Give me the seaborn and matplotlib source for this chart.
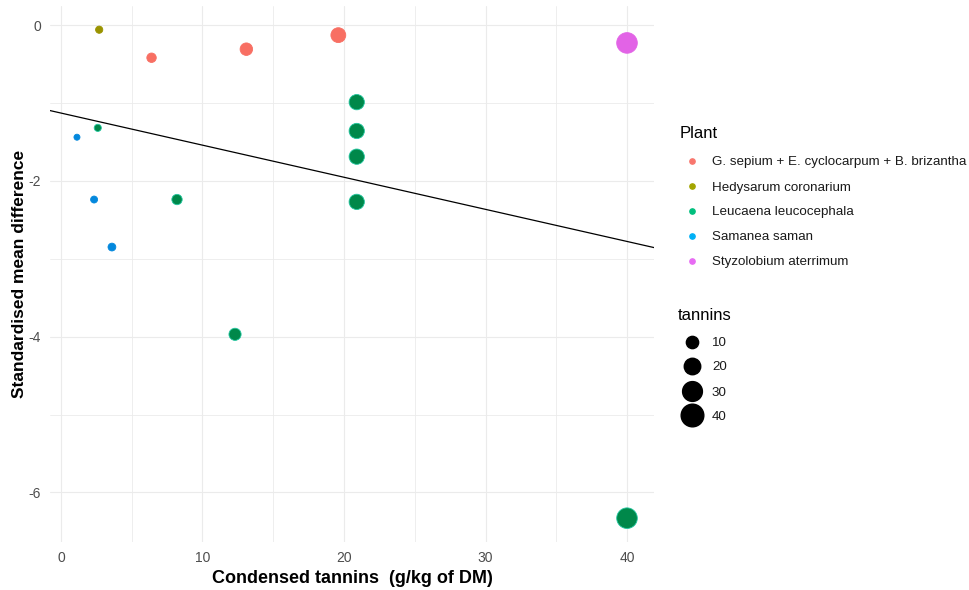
import matplotlib
matplotlib.use("Agg")
import matplotlib.pyplot as plt
from matplotlib.lines import Line2D
from matplotlib.ticker import MultipleLocator
import numpy as np
import pandas as pd
import seaborn as sns

# ---- data ----
plants = ["G. sepium + E. cyclocarpum + B. brizantha", "Hedysarum coronarium",
          "Leucaena leucocephala", "Samanea saman", "Styzolobium aterrimum"]
point_plant = ["G. sepium + E. cyclocarpum + B. brizantha"] * 3 + \
              ["Hedysarum coronarium"] + \
              ["Leucaena leucocephala"] * 8 + \
              ["Samanea saman"] * 3 + \
              ["Styzolobium aterrimum"]
tannins = [6.4, 13.1, 19.6,
           2.7,
           2.6, 8.2, 12.3, 20.9, 20.9, 20.9, 20.9, 40.0,
           1.13, 2.34, 3.6,
           40.0]
smd = [-0.42, -0.31, -0.13,
       -0.06,
       -1.32, -2.24, -3.97, -0.99, -1.36, -1.69, -2.27, -6.33,
       -1.44, -2.24, -2.85,
       -0.23]
fit_intercept = -1.13
fit_slope = -0.0412
size_breaks = [10, 20, 30, 40]

legend_colors = ["#F8766D", "#A3A500", "#00BF7D", "#00B0F6", "#E76BF3"]
point_colors = ["#F86F63", "#9A9300", "#00884A", "#0388DD", "#E263E6"]

df = pd.DataFrame({"Plant": point_plant, "tannins": tannins, "smd": smd})

sns.set_theme(style="white")
plt.rcParams["font.family"] = ["Liberation Sans", "DejaVu Sans"]

fig = plt.figure(figsize=(9.69, 5.90), dpi=100)
ax = fig.add_axes([0.0511, 0.0808, 0.6243, 0.9098])

size_min, size_max = 13.0, 220.0
sns.scatterplot(data=df, x="tannins", y="smd", hue="Plant", hue_order=plants,
                palette=dict(zip(plants, point_colors)),
                size="tannins", sizes=(size_min, size_max), size_norm=(0, 40),
                linewidth=0.6, edgecolor=None, legend=False, ax=ax, zorder=3)
# teal halo on Leucaena points like in the reference
coll = ax.collections[-1]
ec = [("#22C7A0" if p == "Leucaena leucocephala" else point_colors[plants.index(p)])
      for p in df["Plant"]]
coll.set_edgecolor(ec)

ax.axline((0, fit_intercept), slope=fit_slope, color="black", lw=0.9, zorder=2)

ax.set_xlim(-0.81, 41.94)
ax.set_ylim(-6.64, 0.25)
ax.xaxis.set_major_locator(MultipleLocator(10))
ax.xaxis.set_minor_locator(MultipleLocator(5))
ax.yaxis.set_major_locator(MultipleLocator(2))
ax.yaxis.set_minor_locator(MultipleLocator(1))
ax.grid(which="major", color="#EBEBEB", lw=0.8)
ax.grid(which="minor", color="#EBEBEB", lw=0.6)
ax.set_axisbelow(True)
for s in ax.spines.values():
    s.set_visible(False)
ax.tick_params(axis="both", which="both", length=0, labelsize=10, colors="#4D4D4D", pad=6)
ax.set_yticks([0, -2, -4, -6])
ax.set_yticklabels(["0", "-2", "-4", "-6"])
ax.set_xlabel("Condensed tannins  (g/kg of DM)", fontsize=13, fontweight="bold",
              color="black", labelpad=4)
ax.set_ylabel("Standardised mean difference", fontsize=12.5, fontweight="bold",
              color="black", labelpad=1)

# ---- legends (drawn in figure pixel positions) ----
W, H = 969.0, 590.0
def fx(px):
    return px / W
def fy(py):
    return 1 - py / H

fig.text(fx(680), fy(134), "Plant", fontsize=12, va="center", ha="left", color="black")
ys = [161, 186, 211, 236, 261]
for lab, col, y in zip(plants, legend_colors, ys):
    fig.add_artist(Line2D([fx(692)], [fy(y)], transform=fig.transFigure, marker="o",
                          ms=3.8, color=col, lw=0))
    fig.text(fx(712), fy(y), lab, fontsize=9.6, va="center_baseline", ha="left",
             color="#1A1A1A")

fig.text(fx(678), fy(315), "tannins", fontsize=12, va="center", ha="left", color="black")
ys2 = [342, 366, 391, 415]
for v, y in zip(size_breaks, ys2):
    s = size_min + (size_max - size_min) * v / 40.0
    fig.add_artist(Line2D([fx(692)], [fy(y)], transform=fig.transFigure, marker="o",
                          ms=np.sqrt(s) * 1.1, color="black", lw=0))
    fig.text(fx(712), fy(y), str(v), fontsize=9.6, va="center_baseline", ha="left",
             color="#1A1A1A")

fig.savefig("out.png", dpi=100)
